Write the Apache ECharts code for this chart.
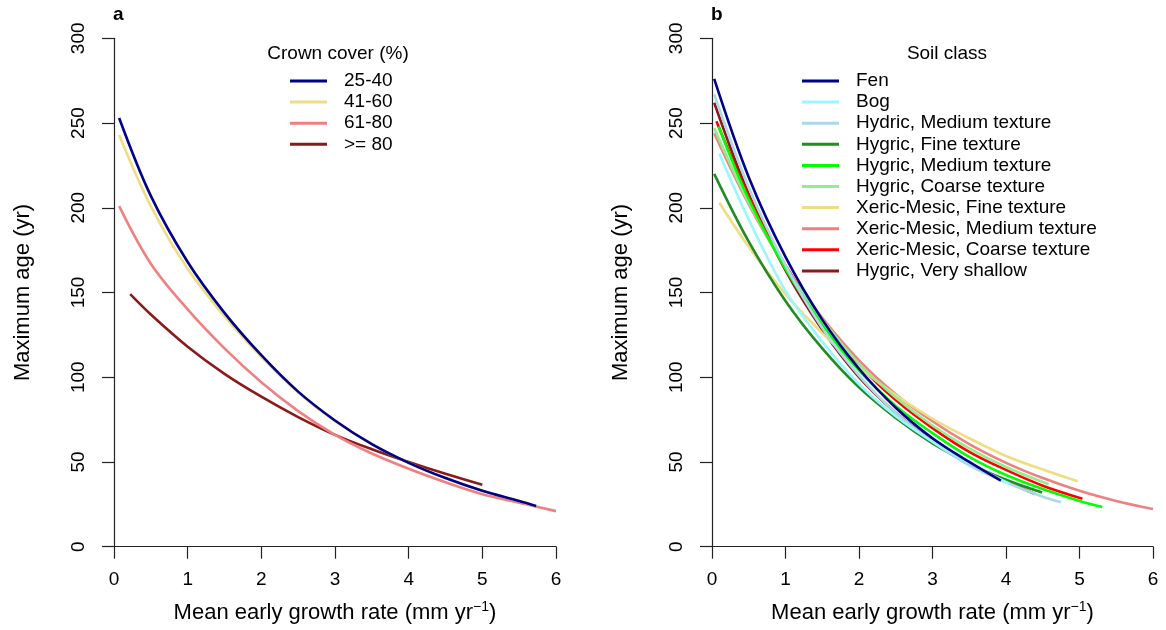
<!DOCTYPE html>
<html>
<head>
<meta charset="utf-8">
<title>Maximum age vs. mean early growth rate</title>
<script src="https://cdn.jsdelivr.net/npm/echarts@6/dist/echarts.min.js"></script>
<style>
  html, body { margin: 0; padding: 0; background: #fff; }
  #chart { width: 1166px; height: 630px; }
</style>
</head>
<body>
<div id="chart"></div>
<script>
// ---- Panel a: crown cover classes ----
const coverNames = ['25-40', '41-60', '61-80', '>= 80'];
const coverColors = ['#00008B', '#EEDD82', '#F08080', '#8B1A1A'];

const cover2540X = [0.07, 0.5, 1, 1.5, 2, 2.5, 3, 3.5, 4, 4.5, 5, 5.5, 5.73];
const cover2540Y = [253, 207, 168, 138, 113, 91.5, 74.5, 60.5, 49.5, 40.5, 33, 27, 24];
const cover4160X = [0.07, 0.5, 1, 1.5, 2, 2.5, 3, 3.5, 4, 4.5, 5, 5.5, 5.7];
const cover4160Y = [243, 201, 164, 136, 112, 91, 74, 60.5, 49.5, 40.5, 33, 27, 24.2];
const cover6180X = [0.07, 0.5, 1, 1.5, 2, 2.5, 3, 3.5, 4, 4.5, 5, 5.5, 6];
const cover6180Y = [201, 167, 140, 117, 97, 80, 66, 55, 46, 38, 31, 26, 21];
const cover80X = [0.22, 0.5, 1, 1.5, 2, 2.5, 3, 3.5, 4, 4.5, 5];
const cover80Y = [149, 137, 118, 102, 88.5, 76.5, 66, 57.5, 50, 43, 36.5];

// ---- Panel b: soil classes ----
const soilNames = [
  'Fen', 'Bog', 'Hydric, Medium texture', 'Hygric, Fine texture',
  'Hygric, Medium texture', 'Hygric, Coarse texture', 'Xeric-Mesic, Fine texture',
  'Xeric-Mesic, Medium texture', 'Xeric-Mesic, Coarse texture', 'Hygric, Very shallow'
];
const soilColors = ['#00008B', '#9BF7FF', '#ADD8E6', '#228B22', '#00FF00',
                    '#90EE90', '#EEDD82', '#F08080', '#FF0000', '#8B1A1A'];

const fenX = [0.03, 0.5, 1, 1.5, 2, 2.5, 3, 3.5, 3.93];
const fenY = [276, 218, 171, 134, 105, 82, 64, 50, 39];
const bogX = [0.1, 0.5, 1, 1.5, 2, 2.5, 3, 3.5, 4.05];
const bogY = [232, 193, 151, 121, 96, 77, 62, 49.5, 37];
const hydricMedX = [0.03, 0.5, 1, 1.5, 2, 2.5, 3, 3.5, 4, 4.5, 4.75];
const hydricMedY = [267, 212, 166, 129, 101, 79, 62, 48, 38, 29.5, 26.2];
const hygricFineX = [0.03, 0.5, 1, 1.5, 2, 2.5, 3, 3.5, 4, 4.49];
const hygricFineY = [220, 180, 145, 117, 94, 76, 61, 49, 39.5, 32];
const hygricMedX = [0.09, 0.5, 1, 1.5, 2, 2.5, 3, 3.5, 4, 4.5, 5, 5.31];
const hygricMedY = [248, 205, 164, 131, 104, 83, 67, 53, 42.3, 34, 27, 23.4];
const hygricCoarseX = [0.03, 0.5, 1, 1.5, 2, 2.5, 3, 3.5, 4, 4.58];
const hygricCoarseY = [247, 203, 165, 134, 108, 88, 71.5, 58, 47, 36.8];
const xericFineX = [0.1, 0.5, 1, 1.5, 2, 2.5, 3, 3.5, 4, 4.5, 4.975];
const xericFineY = [203, 177, 149, 126, 106, 89.5, 75.5, 64, 53.5, 45.5, 38.6];
const xericMedX = [0.03, 0.5, 1, 1.5, 2, 2.5, 3, 3.5, 4, 4.5, 5, 5.5, 6];
const xericMedY = [244, 202, 165, 135, 110, 90, 74, 60.5, 49.5, 40.5, 33, 27, 22.2];
const xericCoarseX = [0.06, 0.5, 1, 1.5, 2, 2.5, 3, 3.5, 4, 4.5, 5.04];
const xericCoarseY = [251, 207, 166, 134, 107.5, 86.5, 70, 56, 45.3, 36, 28.3];
const shallowX = [0.03, 0.5, 1, 1.5, 2, 2.5, 3, 3.5, 4, 4.4];
const shallowY = [262, 208, 163, 128, 100, 79, 62.5, 49, 38.5, 31];

// axis ticks
const xTicks = { min: 0, max: 6, interval: 1 };
const yTicks = { min: 0, max: 300, interval: 50 };

const coverSeriesData = [
  [cover2540X, cover2540Y], [cover4160X, cover4160Y],
  [cover6180X, cover6180Y], [cover80X, cover80Y]
];
const soilSeriesData = [
  [fenX, fenY], [bogX, bogY], [hydricMedX, hydricMedY], [hygricFineX, hygricFineY],
  [hygricMedX, hygricMedY], [hygricCoarseX, hygricCoarseY], [xericFineX, xericFineY],
  [xericMedX, xericMedY], [xericCoarseX, xericCoarseY], [shallowX, shallowY]
];

const FONT = "'Liberation Sans', Arial, Helvetica, sans-serif";
const AXIS_COLOR = '#222';

function pairs(xs, ys) {
  return xs.map((x, i) => [x, ys[i]]);
}

// The first class in each legend is painted on top of the later ones.
function makeSeries(names, colors, dataSets, axisIndex) {
  return names.map((name, i) => ({
    name: name,
    type: 'line',
    xAxisIndex: axisIndex,
    yAxisIndex: axisIndex,
    data: pairs(dataSets[i][0], dataSets[i][1]),
    smooth: 0.35,
    showSymbol: false,
    symbol: 'none',
    silent: true,
    color: colors[i],
    lineStyle: { color: colors[i], width: 2.6 },
    itemStyle: { color: colors[i] },
    animation: false
  })).reverse();
}

function xAxisFor(gridIndex) {
  return {
    type: 'value',
    gridIndex: gridIndex,
    min: xTicks.min, max: xTicks.max, interval: xTicks.interval,
    axisLine: { show: true, onZero: false, lineStyle: { color: AXIS_COLOR, width: 1.2 } },
    axisTick: { show: true, inside: false, length: 12, lineStyle: { color: AXIS_COLOR, width: 1.2 } },
    axisLabel: { color: '#000', fontSize: 19, fontFamily: FONT, margin: 24 },
    splitLine: { show: false },
    name: '{a|Mean early growth rate (mm yr}{s|\u22121}{a|)}',
    nameLocation: 'middle',
    nameGap: 53,
    nameTextStyle: {
      rich: {
        a: { fontSize: 22, fontFamily: FONT, color: '#000', lineHeight: 26 },
        s: { fontSize: 14, fontFamily: FONT, color: '#000', lineHeight: 12, verticalAlign: 'top' }
      }
    }
  };
}

function yAxisFor(gridIndex) {
  return {
    type: 'value',
    gridIndex: gridIndex,
    min: yTicks.min, max: yTicks.max, interval: yTicks.interval,
    axisLine: { show: true, onZero: false, lineStyle: { color: AXIS_COLOR, width: 1.2 } },
    axisTick: { show: true, inside: false, length: 12, lineStyle: { color: AXIS_COLOR, width: 1.2 } },
    axisLabel: { color: '#000', fontSize: 19, fontFamily: FONT, rotate: 90, margin: 26 },
    splitLine: { show: false },
    name: 'Maximum age (yr)',
    nameLocation: 'middle',
    nameRotate: 90,
    nameGap: 80,
    nameTextStyle: { fontSize: 22, fontFamily: FONT, color: '#000' }
  };
}

function legendFor(names, left, top) {
  return {
    data: names,
    orient: 'vertical',
    left: left,
    top: top,
    padding: 0,
    itemGap: 2.1,
    itemWidth: 37,
    itemHeight: 3,
    icon: 'rect',
    selectedMode: false,
    textStyle: { fontSize: 19, fontFamily: FONT, color: '#000', lineHeight: 19, padding: [0, 0, 0, 12] }
  };
}

const chart = echarts.init(document.getElementById('chart'), null, { renderer: 'canvas' });

chart.setOption({
  backgroundColor: '#fff',
  animation: false,
  grid: [
    { left: 114, top: 38.3, width: 442, height: 508.4 },
    { left: 712, top: 38.3, width: 441, height: 508.4 }
  ],
  xAxis: [xAxisFor(0), xAxisFor(1)],
  yAxis: [yAxisFor(0), yAxisFor(1)],
  legend: [
    legendFor(coverNames, 290, 71.5),
    legendFor(soilNames, 802, 71.5)
  ],
  graphic: [
    { type: 'text', left: 113, top: 5, style: { text: 'a', fontSize: 19, fontWeight: 'bold', fontFamily: FONT, fill: '#000' } },
    { type: 'text', left: 711, top: 5, style: { text: 'b', fontSize: 19, fontWeight: 'bold', fontFamily: FONT, fill: '#000' } },
    { type: 'text', x: 338, y: 54, style: { text: 'Crown cover (%)', fontSize: 19, fontFamily: FONT, fill: '#000', align: 'center', verticalAlign: 'middle' } },
    { type: 'text', x: 947, y: 54, style: { text: 'Soil class', fontSize: 19, fontFamily: FONT, fill: '#000', align: 'center', verticalAlign: 'middle' } }
  ],
  series: makeSeries(coverNames, coverColors, coverSeriesData, 0)
    .concat(makeSeries(soilNames, soilColors, soilSeriesData, 1))
});
</script>
</body>
</html>
